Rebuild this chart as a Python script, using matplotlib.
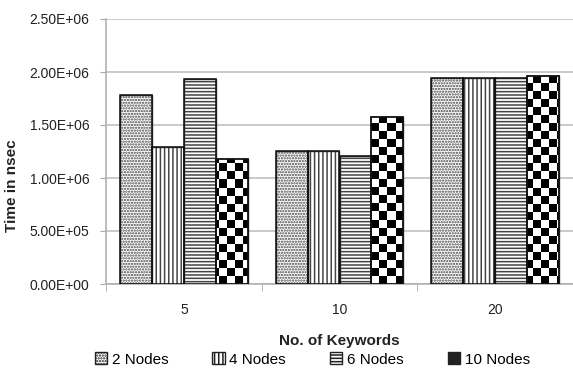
import numpy as np
import matplotlib
matplotlib.use("Agg")
import matplotlib.pyplot as plt
from matplotlib.patches import Patch

plt.rcParams['font.family'] = ['Liberation Sans Narrow', 'Liberation Sans', 'DejaVu Sans']
plt.rcParams['hatch.linewidth'] = 1.1

categories = ['5', '10', '20']
series_names = ['2 Nodes', '4 Nodes', '6 Nodes', '10 Nodes']
values = {
    '2 Nodes': [1.787e6, 1.256e6, 1.941e6],
    '4 Nodes': [1.294e6, 1.256e6, 1.941e6],
    '6 Nodes': [1.932e6, 1.212e6, 1.941e6],
    '10 Nodes': [1.178e6, 1.579e6, 1.960e6],
}
yticks = [0, 5e5, 1e6, 1.5e6, 2e6, 2.5e6]
ytick_labels = ['0.00E+00', '5.00E+05', '1.00E+06', '1.50E+06', '2.00E+06', '2.50E+06']

hatches = ['......', '||||', '-----', None]

fig = plt.figure(figsize=(5.73, 3.71), dpi=100)
ax = fig.add_axes([106/573, 1-284/371, 1-106/573, (284-19)/371])

x = np.arange(len(categories))
n = len(series_names)
group_w = 0.82
bw = group_w / n
all_bars = []
for i, name in enumerate(series_names):
    pos = x - group_w/2 + bw*(i+0.5)
    bars = ax.bar(pos, values[name], width=bw, facecolor='white',
                  edgecolor='#444444', linewidth=1.0, hatch=hatches[i], zorder=3)
    all_bars.append(bars)
    if hatches[i] is not None:
        for b in bars:
            ax.add_patch(plt.Rectangle(b.get_xy(), b.get_width(), b.get_height(), fill=False,
                                       edgecolor='#111111', linewidth=1.1, zorder=4))

# checkerboard for the last series, clipped to each bar
ny, nx = 33, 58
checker = (np.add.outer(np.arange(ny), np.arange(nx)) % 2).astype(float)
for b in all_bars[3]:
    im = ax.imshow(checker, cmap='gray', extent=(0, 1, 0, 1), transform=ax.transAxes,
                   interpolation='nearest', aspect='auto', zorder=3.5)
    im.set_clip_path(b)
    ax.add_patch(plt.Rectangle(b.get_xy(), b.get_width(), b.get_height(), fill=False,
                               edgecolor='#111111', linewidth=1.3, zorder=4))

ax.set_xlim(-0.5, len(categories)-0.5)
ax.set_ylim(0, 2.5e6)
ax.set_yticks(yticks)
ax.set_yticklabels(ytick_labels, fontsize=10, color='#222222')
ax.set_xticks(x)
ax.set_xticklabels(categories, fontsize=10, color='#222222')
ax.tick_params(axis='x', length=0, pad=14)
ax.set_xticks(np.arange(len(categories)+1)-0.5, minor=True)
ax.tick_params(axis='x', which='minor', length=5, color='#aaaaaa', direction='out')
ax.tick_params(axis='y', length=4, color='#aaaaaa', pad=8)
ax.grid(axis='y', color='#c0c0c0', linewidth=1.2, zorder=0)
for s in ['top', 'right']:
    ax.spines[s].set_visible(False)
for s in ['left', 'bottom']:
    ax.spines[s].set_color('#b0b0b0')
    ax.spines[s].set_linewidth(1.2)

ax.set_ylabel('Time in nsec', fontsize=11, fontweight='bold', color='#222222')
ax.yaxis.set_label_coords(-0.186, 0.37)
ax.set_xlabel('No. of Keywords', fontsize=11, fontweight='bold', color='#222222')
ax.xaxis.set_label_coords(0.5, -0.19)

handles = []
for i, name in enumerate(series_names):
    if hatches[i] is not None:
        handles.append(Patch(facecolor='white', edgecolor='#222222', hatch=hatches[i], label=name))
    else:
        handles.append(Patch(facecolor='#222222', edgecolor='#222222', label=name))
fig.legend(handles=handles, loc='lower center', bbox_to_anchor=(0.545, -0.025), ncol=4,
           frameon=False, fontsize=11, handlelength=0.8, handleheight=0.8,
           handletextpad=0.3, columnspacing=2.9)

fig.savefig('out.png', dpi=100)
